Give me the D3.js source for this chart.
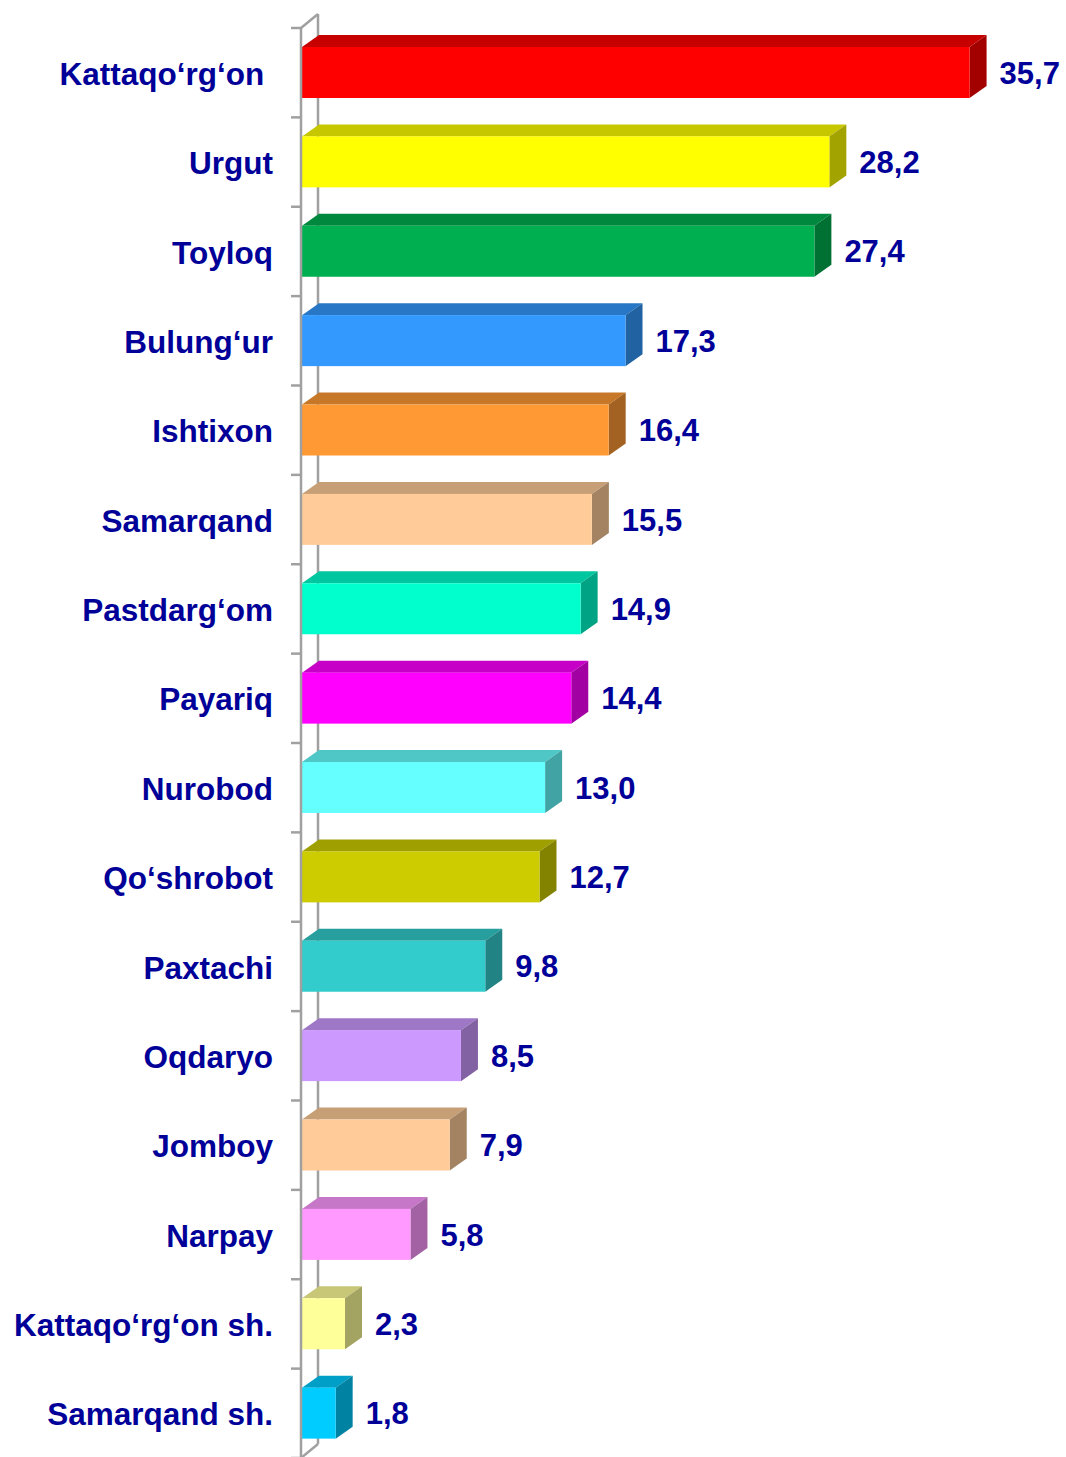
<!DOCTYPE html>
<html>
<head>
<meta charset="utf-8">
<script src="https://cdn.jsdelivr.net/npm/d3@7"></script>
<style>
  html, body { margin: 0; padding: 0; background: #ffffff; }
  svg { display: block; }
  text { font-family: "Liberation Sans", Arial, sans-serif; font-weight: bold; fill: #000099; white-space: pre; }
</style>
</head>
<body>
<svg id="chart" width="1066" height="1457"></svg>
<script>
// Districts, top to bottom
const districts = [
  "Kattaqo‘rg‘on ", "Urgut", "Toyloq", "Bulung‘ur", "Ishtixon", "Samarqand",
  "Pastdarg‘om", "Payariq", "Nurobod", "Qo‘shrobot", "Paxtachi", "Oqdaryo",
  "Jomboy", "Narpay", "Kattaqo‘rg‘on sh.", "Samarqand sh."
];
// Values per district
const values = [35.7, 28.2, 27.4, 17.3, 16.4, 15.5, 14.9, 14.4, 13.0, 12.7, 9.8, 8.5, 7.9, 5.8, 2.3, 1.8];
// Front-face colour of each bar
const barColors = [
  "#FF0000", "#FFFF00", "#00B050", "#3399FF", "#FF9933", "#FFCC99",
  "#00FFCC", "#FF00FF", "#66FFFF", "#CCCC00", "#33CCCC", "#CC99FF",
  "#FFCC99", "#FF99FF", "#FFFF99", "#00CCFF"
];

const svg = d3.select("#chart");

// 3D depth of the bars and the axis wall
const DX = 17, DY = 12;

const x = d3.scaleLinear().domain([0, 40]).range([302, 1050]);
const y = d3.scaleBand().domain(districts).range([28, 1458]).padding(0);
const FRONT_TOP = 19, FRONT_H = 51;

const fmt = v => d3.format(".1f")(v).replace(".", ",");
const shade = (c, f) => {
  const r = d3.rgb(c);
  return d3.rgb(r.r * f, r.g * f, r.b * f).formatHex();
};

const data = districts.map((name, i) => ({ name, value: values[i], color: barColors[i] }));

// Axis wall: back line and diagonals
const axisG = svg.append("g").attr("stroke", "#A0A0A0").attr("stroke-width", 2.5).attr("fill", "none");
const [y0, y1] = y.range();
axisG.append("line").attr("x1", x(0) - 1 + DX).attr("x2", x(0) - 1 + DX).attr("y1", y0 - 14).attr("y2", y1 - 14);
axisG.append("line").attr("x1", x(0) - 1).attr("x2", x(0) - 1 + DX).attr("y1", y0).attr("y2", y0 - 14);
axisG.append("line").attr("x1", x(0) - 1).attr("x2", x(0) - 1 + DX).attr("y1", y1).attr("y2", y1 - 14);

// Bars
const bars = svg.append("g").selectAll("g").data(data).join("g");
bars.each(function (d) {
  const g = d3.select(this);
  const xl = x(0), xr = x(d.value);
  const top = y(d.name) + FRONT_TOP, bot = top + FRONT_H;
  // top face
  g.append("path")
    .attr("d", `M${xl},${top} L${xl + DX},${top - DY} L${xr + DX},${top - DY} L${xr},${top} Z`)
    .attr("fill", shade(d.color, 0.78));
  // side face
  g.append("path")
    .attr("d", `M${xr},${top} L${xr + DX},${top - DY} L${xr + DX},${bot - DY} L${xr},${bot} Z`)
    .attr("fill", shade(d.color, 0.64));
  // front face
  g.append("rect")
    .attr("x", xl).attr("y", top).attr("width", xr - xl).attr("height", FRONT_H)
    .attr("fill", d.color);
});

// Front axis line and category ticks
const frontG = svg.append("g").attr("stroke", "#A0A0A0").attr("stroke-width", 2.5);
frontG.append("line").attr("x1", x(0) - 1).attr("x2", x(0) - 1).attr("y1", y0).attr("y2", y1);
frontG.selectAll("line.tick").data(districts.concat([null])).join("line").attr("class", "tick")
  .attr("x1", x(0) - 11).attr("x2", x(0) - 1)
  .attr("y1", (d, i) => y0 + i * y.step()).attr("y2", (d, i) => y0 + i * y.step());

// Category labels
svg.append("g").selectAll("text").data(data).join("text")
  .attr("x", 273)
  .attr("y", d => y(d.name) + FRONT_TOP + FRONT_H / 2 + 1)
  .attr("dy", "0.36em")
  .attr("text-anchor", "end")
  .attr("font-size", 31.5)
  .text(d => d.name);

// Value labels
svg.append("g").selectAll("text").data(data).join("text")
  .attr("x", d => x(d.value) + DX + 13)
  .attr("y", d => y(d.name) + FRONT_TOP + FRONT_H / 2)
  .attr("dy", "0.36em")
  .attr("font-size", 31)
  .text(d => fmt(d.value));
</script>
</body>
</html>
